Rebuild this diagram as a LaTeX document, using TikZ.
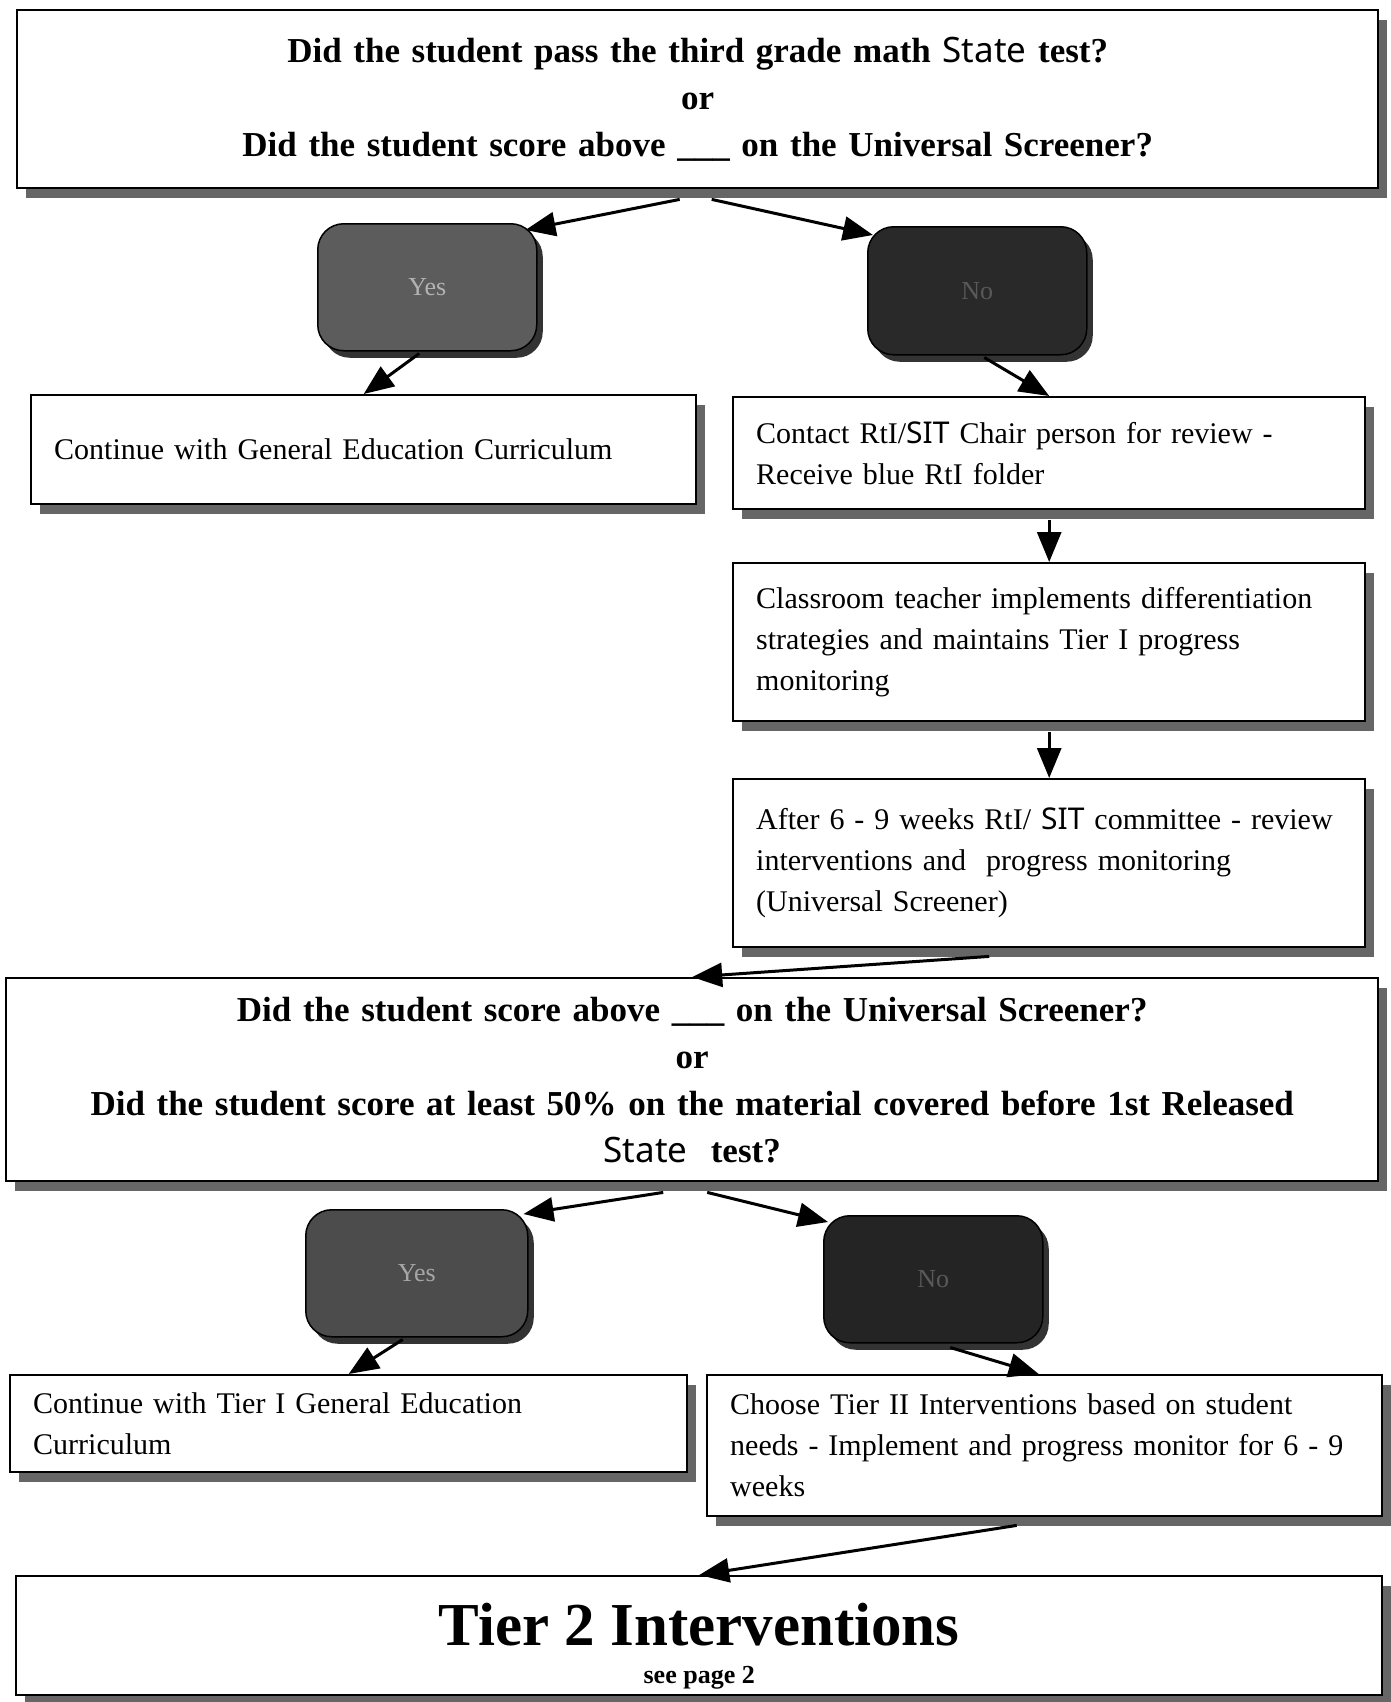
\documentclass[tikz,border=0pt]{standalone}
\usepackage{fontspec}
\setmainfont{Liberation Serif}
\newfontfamily\handfont{Noto Sans}
\usetikzlibrary{arrows.meta,shadows,calc}
\newcommand{\hw}[1]{{\handfont\mdseries #1}}
\begin{document}
\begin{tikzpicture}[x=1pt,y=-1pt,
  box/.style={draw, line width=2.4pt, fill=white, rectangle, anchor=north west,
    drop shadow={shadow xshift=9pt, shadow yshift=-10pt, fill=black!60, opacity=1},
    inner xsep=23pt, inner ysep=0pt},
  head/.style={box, align=center, font=\fontsize{35}{47}\selectfont\bfseries},
  body/.style={box, align=left, font=\fontsize{30}{41}\selectfont},
  choice/.style={draw=black, line width=1.5pt, rounded corners=26pt, anchor=north west,
    font=\fontsize{26}{30}\selectfont,
    drop shadow={shadow xshift=6pt, shadow yshift=-7pt, fill=black!80, opacity=1}},
  arr/.style={line width=3pt, -{Triangle[length=30pt,width=24pt]}}]
\useasboundingbox (0,0) rectangle (1391,1702);
\fill[white] (0,0) rectangle (1391,1702);

\node[head, minimum width=1361pt, minimum height=178pt, text width=1315pt] (q1) at (16,9)
 {Did the student pass the third grade math \hw{State} test?\\ or\\ Did the student score above \_\_\_ on the Universal Screener?};

\node[choice, fill=black!64, text=black!30, minimum width=219pt, minimum height=127pt] (yes1) at (317,223) {Yes};
\node[choice, fill=black!84, text=black!65, minimum width=219pt, minimum height=128pt] (no1) at (867,226) {No};

\node[body, minimum width=665pt, minimum height=109pt, text width=619pt] (cont1) at (30,394)
 {Continue with General Education Curriculum};
\node[body, minimum width=632pt, minimum height=112pt, text width=586pt] (contact) at (732,396)
 {Contact RtI/\hw{SIT} Chair person for review -\\ Receive blue RtI folder};
\node[body, minimum width=632pt, minimum height=158pt, text width=586pt] (class) at (732,562)
 {Classroom teacher implements differentiation\\ strategies and maintains Tier I progress\\ monitoring};
\node[body, minimum width=632pt, minimum height=168pt, text width=586pt] (after) at (732,778)
 {After 6 - 9 weeks RtI/ \hw{SIT} committee - review\\ interventions and\ \ progress monitoring\\ (Universal Screener)};

\node[head, minimum width=1372pt, minimum height=203pt, text width=1326pt] (q2) at (5,977)
 {Did the student score above \_\_\_ on the Universal Screener?\\ or\\ Did the student score at least 50\% on the material covered before 1st Released\\ \hw{State}\ \ test?};

\node[choice, fill=black!70, text=black!35, minimum width=222pt, minimum height=127pt] (yes2) at (305,1209) {Yes};
\node[choice, fill=black!86, text=black!65, minimum width=219pt, minimum height=127pt] (no2) at (823,1215) {No};

\node[body, minimum width=677pt, minimum height=97pt, text width=631pt] (cont2) at (9,1374)
 {Continue with Tier I General Education\\ Curriculum};
\node[body, minimum width=675pt, minimum height=141pt, text width=629pt] (choose) at (706,1374)
 {Choose Tier II Interventions based on student\\ needs - Implement and progress monitor for 6 - 9\\ weeks};

\node[box, minimum width=1366pt, minimum height=119pt] (tier2) at (15,1575) {};
\node[anchor=base, font=\fontsize{61}{61}\selectfont\bfseries] (t2a) at ($(tier2.north)+(0,70)$) {Tier 2 Interventions};
\node[anchor=base, font=\fontsize{26}{26}\selectfont\bfseries] (t2b) at ($(tier2.north)+(0,108)$) {see page 2};

\draw[arr] ($(q1.south)+(-18,10)$) -- ($(yes1.north east)+(-12,7)$);
\draw[arr] ($(q1.south)+(14,10)$) -- ($(no1.north west)+(6,9)$);
\draw[arr] ($(yes1.south)+(-8,2)$) -- (cont1.north);
\draw[arr] ($(no1.south)+(7,2)$) -- (contact.north);
\draw[arr] ($(contact.south)+(0,10)$) -- (class.north);
\draw[arr] ($(class.south)+(0,10)$) -- (after.north);
\draw[arr] ($(after.south)+(-60,8)$) -- (q2.north);
\draw[arr] ($(q2.south)+(-29,10)$) -- ($(yes2.north east)+(-5,5)$);
\draw[arr] ($(q2.south)+(15,10)$) -- ($(no2.north west)+(5,7)$);
\draw[arr] ($(yes2.south)+(-14,2)$) -- (cont2.north);
\draw[arr] ($(no2.south)+(17,4)$) -- ($(choose.north)+(-6,0)$);
\draw[arr] ($(choose.south)+(-28,8)$) -- (tier2.north);
\end{tikzpicture}
\end{document}
